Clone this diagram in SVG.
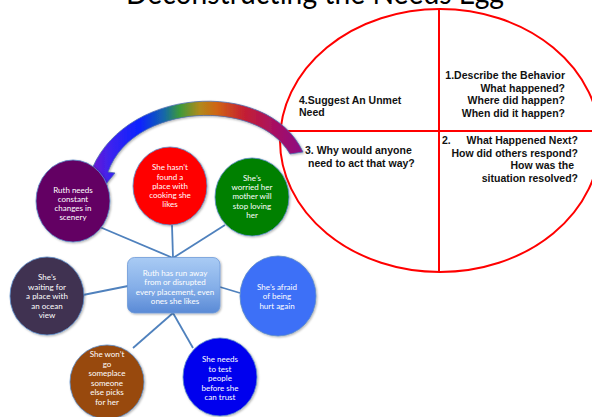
<svg xmlns="http://www.w3.org/2000/svg" width="592" height="417" viewBox="0 0 592 417">
<defs>
<linearGradient id="arrowGrad" gradientUnits="userSpaceOnUse" x1="85" y1="0" x2="305" y2="0">
<stop offset="0" stop-color="#7a18c8"/>
<stop offset="0.12" stop-color="#3a22f0"/>
<stop offset="0.25" stop-color="#0a22ff"/>
<stop offset="0.36" stop-color="#1468a8"/>
<stop offset="0.43" stop-color="#3c9a3a"/>
<stop offset="0.52" stop-color="#b08a1c"/>
<stop offset="0.6" stop-color="#d06414"/>
<stop offset="0.72" stop-color="#c42032"/>
<stop offset="0.86" stop-color="#a81062"/>
<stop offset="1" stop-color="#8a0a86"/>
</linearGradient>
<linearGradient id="rectGrad" x1="0" y1="0" x2="0" y2="1">
<stop offset="0" stop-color="#a9cbf4"/>
<stop offset="0.55" stop-color="#84aee8"/>
<stop offset="1" stop-color="#5a8ad6"/>
</linearGradient>
<filter id="sh" x="-20%" y="-20%" width="140%" height="140%">
<feGaussianBlur in="SourceAlpha" stdDeviation="1.2"/>
<feOffset dx="0.5" dy="1" result="b"/>
<feFlood flood-color="#000" flood-opacity="0.3"/>
<feComposite in2="b" operator="in"/>
<feMerge><feMergeNode/><feMergeNode in="SourceGraphic"/></feMerge>
</filter>
</defs>
<style>
.egg{fill:none;stroke:#ff0000;stroke-width:2}
.et{font-family:"Liberation Sans",Arial,sans-serif;font-weight:bold;font-size:10.5px;fill:#111}
.nt{font-family:Lato,"Liberation Sans",sans-serif;font-size:8px;fill:#ffffff;text-anchor:middle}
.node{stroke:#5b8bc9;stroke-width:0.8}
.conn{stroke:#4f81bd;stroke-width:1.8;fill:none}
</style>
<rect width="592" height="417" fill="#ffffff"/>
<text x="126" y="4" font-family="Lato,'Liberation Sans',sans-serif" font-size="31" fill="#000" textLength="378" lengthAdjust="spacingAndGlyphs">Deconstructing the Needs Egg</text>

<g id="egg">
<ellipse class="egg" cx="440" cy="140.5" rx="160" ry="131.5"/>
<line class="egg" x1="439" y1="9" x2="439" y2="272"/>
<line class="egg" x1="280" y1="131" x2="600" y2="131"/>
<text class="et" x="565" y="79" text-anchor="end">1.Describe the Behavior</text>
<text class="et" x="565" y="91.5" text-anchor="end">What happened?</text>
<text class="et" x="565" y="104" text-anchor="end">Where did happen?</text>
<text class="et" x="565" y="116.5" text-anchor="end">When did it happen?</text>
<text class="et" x="299" y="104">4.Suggest An Unmet</text>
<text class="et" x="299" y="116">Need</text>
<text class="et" x="305" y="154">3. Why would anyone</text>
<text class="et" x="308" y="167">need to act that way?</text>
<text class="et" x="442" y="144">2.</text>
<text class="et" x="578" y="144" text-anchor="end">What Happened Next?</text>
<text class="et" x="578" y="156.5" text-anchor="end">How did others respond?</text>
<text class="et" x="574" y="169" text-anchor="end">How was the</text>
<text class="et" x="578" y="181.5" text-anchor="end">situation resolved?</text>
</g>

<g id="arrow">
<path d="M303,152 C268,76 118,86 89,177 L81,181 L98,194 L115,173 L108,172 C133,102 258,98 290,154 Z" fill="url(#arrowGrad)" stroke="#4f6fb0" stroke-width="0.8" filter="url(#sh)"/>
</g>

<g id="connectors">
<line class="conn" x1="173" y1="258" x2="95" y2="225"/>
<line class="conn" x1="173" y1="258" x2="172" y2="225"/>
<line class="conn" x1="173" y1="258" x2="225" y2="225"/>
<line class="conn" x1="128" y1="286" x2="83" y2="295"/>
<line class="conn" x1="220" y1="287" x2="240" y2="293"/>
<line class="conn" x1="173" y1="313" x2="133" y2="348"/>
<line class="conn" x1="173" y1="313" x2="193" y2="348"/>
</g>

<g id="center">
<rect x="127.5" y="257.5" width="92.5" height="55.5" rx="7" fill="url(#rectGrad)" stroke="#6f9bd8" stroke-width="0.8" filter="url(#sh)"/>
<text class="nt" x="175" y="276">Ruth has run away</text>
<text class="nt" x="175" y="285.3">from or disrupted</text>
<text class="nt" x="175" y="294.6">every placement, even</text>
<text class="nt" x="175" y="303.9">ones she likes</text>
</g>

<g id="n-scenery">
<ellipse class="node" cx="73" cy="201" rx="37" ry="41" fill="#640064" filter="url(#sh)"/>
<text class="nt" x="73" y="192.5">Ruth needs</text>
<text class="nt" x="73" y="201.8">constant</text>
<text class="nt" x="73" y="211.1">changes in</text>
<text class="nt" x="73" y="220.4">scenery</text>
</g>

<g id="n-cooking">
<ellipse class="node" cx="170" cy="186" rx="37" ry="39" fill="#ff0000" filter="url(#sh)"/>
<text class="nt" x="170" y="170.2">She hasn’t</text>
<text class="nt" x="170" y="179.5">found a</text>
<text class="nt" x="170" y="188.8">place with</text>
<text class="nt" x="170" y="198.1">cooking she</text>
<text class="nt" x="170" y="207.4">likes</text>
</g>

<g id="n-mother">
<ellipse class="node" cx="252" cy="197" rx="37" ry="39" fill="#008000" filter="url(#sh)"/>
<text class="nt" x="252" y="180.6">She’s</text>
<text class="nt" x="252" y="189.9">worried her</text>
<text class="nt" x="252" y="199.2">mother will</text>
<text class="nt" x="252" y="208.5">stop loving</text>
<text class="nt" x="252" y="217.8">her</text>
</g>

<g id="n-ocean">
<ellipse class="node" cx="47" cy="296" rx="37" ry="39" fill="#3f3151" filter="url(#sh)"/>
<text class="nt" x="47" y="280">She’s</text>
<text class="nt" x="47" y="289.5">waiting for</text>
<text class="nt" x="47" y="299">a place with</text>
<text class="nt" x="47" y="308.5">an ocean</text>
<text class="nt" x="47" y="318">view</text>
</g>

<g id="n-afraid">
<ellipse class="node" cx="278" cy="296" rx="38" ry="40" fill="#3d6ff7" filter="url(#sh)"/>
<text class="nt" x="277" y="289.5">She’s afraid</text>
<text class="nt" x="277" y="299">of being</text>
<text class="nt" x="277" y="308.5">hurt again</text>
</g>

<g id="n-someplace">
<ellipse class="node" cx="107" cy="382" rx="37" ry="37" fill="#984807" filter="url(#sh)"/>
<text class="nt" x="107" y="357">She won’t</text>
<text class="nt" x="107" y="366.5">go</text>
<text class="nt" x="107" y="376">someplace</text>
<text class="nt" x="107" y="385.5">someone</text>
<text class="nt" x="107" y="395">else picks</text>
<text class="nt" x="107" y="404.5">for her</text>
</g>

<g id="n-trust">
<ellipse class="node" cx="220" cy="377" rx="37" ry="39" fill="#0000ee" filter="url(#sh)"/>
<text class="nt" x="220" y="362">She needs</text>
<text class="nt" x="220" y="371.5">to test</text>
<text class="nt" x="220" y="381">people</text>
<text class="nt" x="220" y="390.5">before she</text>
<text class="nt" x="220" y="399.5">can trust</text>
</g>
</svg>
